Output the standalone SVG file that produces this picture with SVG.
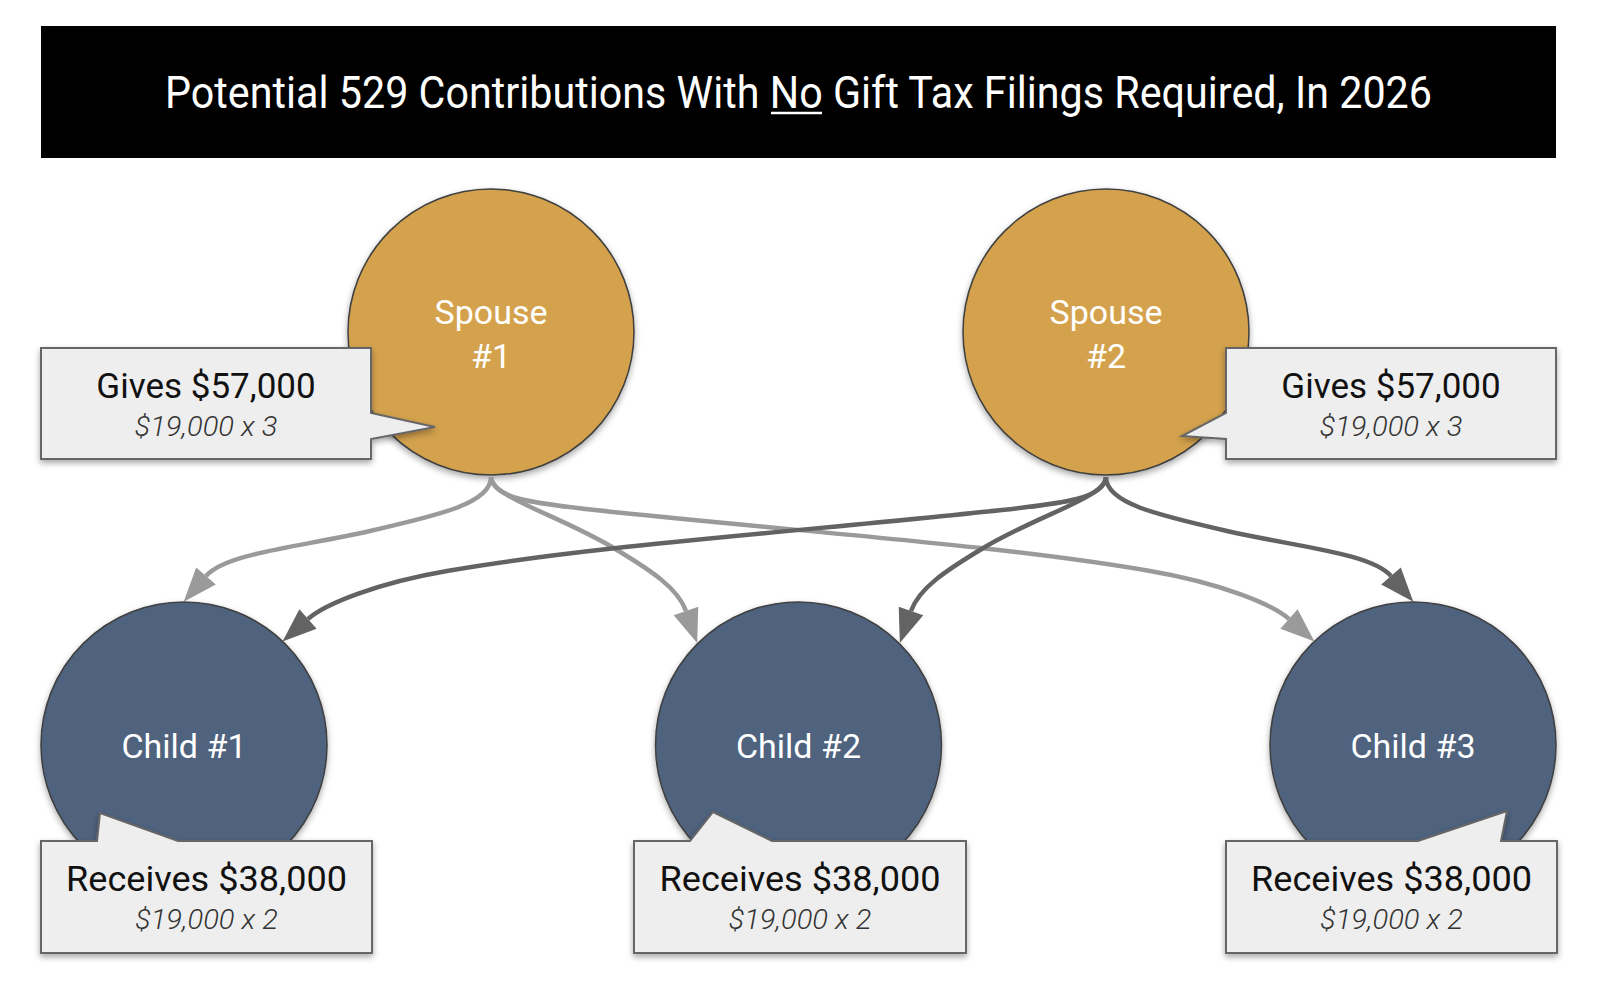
<svg xmlns="http://www.w3.org/2000/svg" width="1600" height="987" viewBox="0 0 1600 987">
  <defs>
    <style>
      .title { font-family: Roboto, "Liberation Sans", sans-serif; font-size: 44px; font-weight: 400; fill: #ffffff; text-anchor: middle; }
      .spouse { fill: #D4A24D; stroke: #3f3f3f; stroke-width: 1.5; }
      .child { fill: #4F637F; stroke: #3f3f3f; stroke-width: 1.5; }
      .nlabel { font-family: Roboto, "Liberation Sans", sans-serif; font-size: 34px; font-weight: 400; fill: #ffffff; text-anchor: middle; }
      .callout { fill: #EEEEEE; stroke: #666666; stroke-width: 2; stroke-linejoin: miter; }
      .main { font-family: Roboto, "Liberation Sans", sans-serif; font-size: 35px; font-weight: 400; fill: #111111; text-anchor: middle; }
      .sub { font-family: Roboto, "Liberation Sans", sans-serif; font-size: 28px; font-style: italic; font-weight: 300; fill: #333333; text-anchor: middle; }
      .light { fill: none; stroke: #9A9A9A; stroke-width: 4.5; stroke-linecap: butt; }
      .dark { fill: none; stroke: #636363; stroke-width: 4.5; stroke-linecap: butt; }
    </style>
    <filter id="shadow" x="-20%" y="-20%" width="140%" height="150%">
      <feDropShadow dx="0" dy="3" stdDeviation="3" flood-color="#000000" flood-opacity="0.35"/>
    </filter>
    <marker id="arrowLight" markerUnits="userSpaceOnUse" markerWidth="36" markerHeight="28" viewBox="0 -14 36 28" refX="0" refY="0" orient="auto" overflow="visible">
      <path d="M0,-13 L34,0 L0,13 Z" fill="#9A9A9A"/>
    </marker>
    <marker id="arrowDark" markerUnits="userSpaceOnUse" markerWidth="36" markerHeight="28" viewBox="0 -14 36 28" refX="0" refY="0" orient="auto" overflow="visible">
      <path d="M0,-13 L34,0 L0,13 Z" fill="#636363"/>
    </marker>
  </defs>

  <rect width="1600" height="987" fill="#ffffff"/>

  <g id="title">
    <rect x="41" y="26" width="1515" height="132" fill="#000000"/>
    <text class="title" x="798.5" y="108" textLength="1267" lengthAdjust="spacingAndGlyphs">Potential 529 Contributions With No Gift Tax Filings Required, In 2026</text>
    <line x1="771" y1="113" x2="822" y2="113" stroke="#ffffff" stroke-width="2.5"/>
  </g>

  <g id="spouse1">
    <circle class="spouse" cx="491" cy="332" r="143" filter="url(#shadow)"/>
    <text class="nlabel" x="491" y="324">Spouse</text>
    <text class="nlabel" x="491" y="368">#1</text>
  </g>
  <g id="spouse2">
    <circle class="spouse" cx="1106" cy="332" r="143" filter="url(#shadow)"/>
    <text class="nlabel" x="1106" y="324">Spouse</text>
    <text class="nlabel" x="1106" y="368">#2</text>
  </g>
  <g id="child1">
    <circle class="child" cx="184" cy="745" r="143" filter="url(#shadow)"/>
    <text class="nlabel" x="184" y="758">Child #1</text>
  </g>
  <g id="child2">
    <circle class="child" cx="798.5" cy="745" r="143" filter="url(#shadow)"/>
    <text class="nlabel" x="798.5" y="758">Child #2</text>
  </g>
  <g id="child3">
    <circle class="child" cx="1413" cy="745" r="143" filter="url(#shadow)"/>
    <text class="nlabel" x="1413" y="758">Child #3</text>
  </g>

  <g id="callout-spouse1">
    <path class="callout" filter="url(#shadow)" d="M41,348 H371 V413 L435,427 L371,439 V459 H41 Z"/>
    <text class="main" x="206" y="398">Gives $57,000</text>
    <text class="sub" x="206" y="436" textLength="143" lengthAdjust="spacingAndGlyphs">$19,000 x 3</text>
  </g>
  <g id="callout-spouse2">
    <path class="callout" filter="url(#shadow)" d="M1226,348 H1556 V459 H1226 V439 L1182,436 L1226,413 Z"/>
    <text class="main" x="1391" y="398">Gives $57,000</text>
    <text class="sub" x="1391" y="436" textLength="143" lengthAdjust="spacingAndGlyphs">$19,000 x 3</text>
  </g>
  <g id="callout-child1">
    <path class="callout" filter="url(#shadow)" d="M41,841 H97 L100,813 L178,841 H372 V953 H41 Z"/>
    <text class="main" x="206.5" y="891" textLength="281" lengthAdjust="spacingAndGlyphs">Receives $38,000</text>
    <text class="sub" x="206.5" y="929" textLength="143" lengthAdjust="spacingAndGlyphs">$19,000 x 2</text>
  </g>
  <g id="callout-child2">
    <path class="callout" filter="url(#shadow)" d="M634,841 H690 L713,812 L772,841 H966 V953 H634 Z"/>
    <text class="main" x="800" y="891" textLength="281" lengthAdjust="spacingAndGlyphs">Receives $38,000</text>
    <text class="sub" x="800" y="929" textLength="143" lengthAdjust="spacingAndGlyphs">$19,000 x 2</text>
  </g>
  <g id="callout-child3">
    <path class="callout" filter="url(#shadow)" d="M1226,841 H1418 L1507,811 L1501,841 H1557 V953 H1226 Z"/>
    <text class="main" x="1391.5" y="891" textLength="281" lengthAdjust="spacingAndGlyphs">Receives $38,000</text>
    <text class="sub" x="1391.5" y="929" textLength="143" lengthAdjust="spacingAndGlyphs">$19,000 x 2</text>
  </g>

  <g id="connectors">
    <path class="light" marker-end="url(#arrowLight)" d="M491,477 C491,503 440,515 370,531 C300,547 226,553 206,576"/>
    <path class="light" marker-end="url(#arrowLight)" d="M491,477 C492,498 560,515 617,550 C650,570 678,588 686,611"/>
    <path class="light" marker-end="url(#arrowLight)" d="M491,477 C493,498 530,503 595,510 C800,532 1000,545 1150,571 C1220,583 1272,604 1289,619"/>
    <path class="dark" marker-end="url(#arrowDark)" d="M1106,477 C1104,498 1067,503 1002,510 C797,532 597,545 447,571 C377,583 325,604 308,619"/>
    <path class="dark" marker-end="url(#arrowDark)" d="M1106,477 C1105,498 1037,515 980,550 C947,570 919,588 911,611"/>
    <path class="dark" marker-end="url(#arrowDark)" d="M1106,477 C1106,503 1157,515 1227,531 C1297,547 1371,553 1391,576"/>
  </g>
</svg>
